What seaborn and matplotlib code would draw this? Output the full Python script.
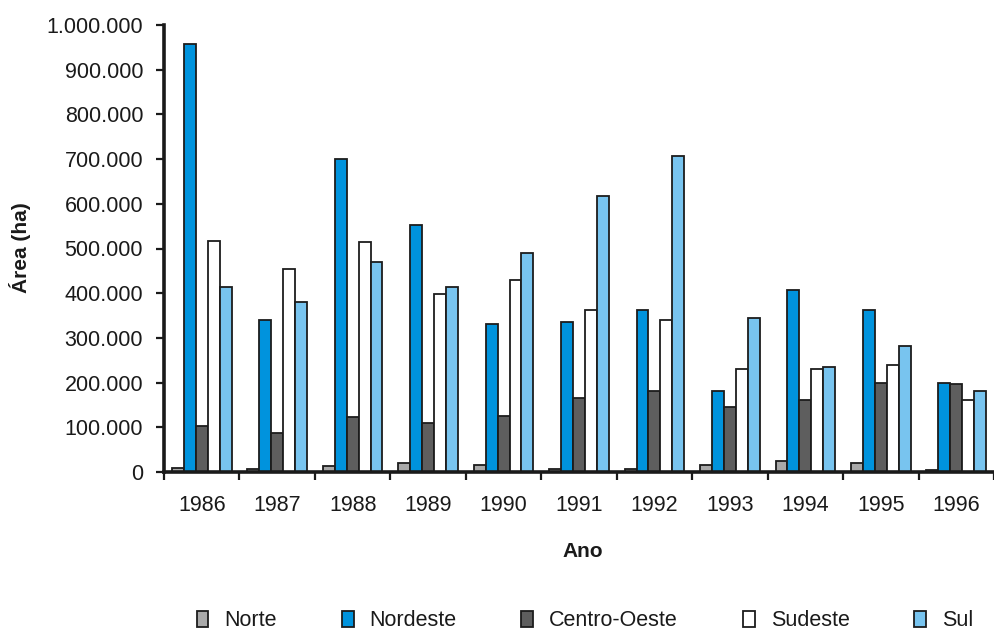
import numpy as np
import pandas as pd
import matplotlib
matplotlib.use("Agg")
import matplotlib.pyplot as plt
from matplotlib.patches import Patch
from matplotlib.ticker import FuncFormatter
import seaborn as sns

# Área (ha) por região, 1986-1996
anos = ["1986", "1987", "1988", "1989", "1990", "1991", "1992", "1993", "1994", "1995", "1996"]
regioes = ["Norte", "Nordeste", "Centro-Oeste", "Sudeste", "Sul"]
norte = [8000, 7000, 13000, 20000, 16000, 7000, 7000, 16000, 25000, 20000, 4000]
nordeste = [957000, 339000, 700000, 552000, 331000, 336000, 362000, 182000, 407000, 362000, 200000]
centro_oeste = [102000, 88000, 124000, 110000, 125000, 165000, 182000, 146000, 160000, 200000, 196000]
sudeste = [517000, 454000, 515000, 398000, 429000, 362000, 339000, 231000, 231000, 240000, 160000]
sul = [413000, 381000, 470000, 413000, 489000, 618000, 706000, 344000, 236000, 281000, 182000]

cores = ["#A9A9A9", "#0093DD", "#5E5E5E", "#FFFFFF", "#78C4EF"]

series = [norte, nordeste, centro_oeste, sudeste, sul]
df = pd.DataFrame({
    "Ano": np.repeat([anos], len(regioes), axis=0).ravel(),
    "Região": np.repeat(regioes, len(anos)),
    "Área": np.concatenate(series),
})

sns.set_theme(style="white")
plt.rcParams["font.family"] = ["Liberation Sans", "DejaVu Sans"]

fig = plt.figure(figsize=(9.94, 6.32), dpi=100)
ax = fig.add_axes([164 / 994, 1 - 472 / 632, 830 / 994, 447 / 632])

sns.barplot(
    data=df, x="Ano", y="Área", hue="Região", order=anos, hue_order=regioes,
    palette=cores, width=0.79, gap=0, edgecolor="#1c1c1c", linewidth=1.3,
    saturation=1, legend=False, ax=ax,
)

ax.set_ylim(0, 1_000_000)
ax.set_xlim(-0.5, 10.38)
ax.set_yticks(np.arange(0, 1_000_001, 100_000))
ax.yaxis.set_major_formatter(FuncFormatter(lambda v, p: f"{int(v):,}".replace(",", ".")))

# year labels centred, tick marks on the category boundaries
ax.set_xticks(np.arange(-0.5, 11, 1), minor=True)
ax.tick_params(axis="x", which="major", length=0, pad=16.5, labelsize=15.5, colors="#1a1a1a")
ax.tick_params(axis="x", which="minor", length=6, width=1.6, color="#1a1a1a", direction="out")
ax.tick_params(axis="y", which="major", length=6, width=1.6, color="#1a1a1a", pad=9,
               labelsize=15.5, labelcolor="#1a1a1a", direction="out", left=True)
ax.xaxis.set_tick_params(bottom=True, which="minor")

for side in ["top", "right"]:
    ax.spines[side].set_visible(False)
for side in ["left", "bottom"]:
    ax.spines[side].set_color("#1a1a1a")
    ax.spines[side].set_linewidth(2.6)

ax.set_xlabel("Ano", fontsize=15, fontweight="bold", color="#1a1a1a")
ax.set_ylabel("Área (ha)", fontsize=15, fontweight="bold", color="#1a1a1a")
ax.xaxis.set_label_coords((583 - 164) / 830, (472 - 542) / 447)
ax.yaxis.set_label_coords((31 - 164) / 830, (472 - 248) / 447)

handles = [Patch(facecolor=c, edgecolor="#1c1c1c", linewidth=1.3) for c in cores]
fig.legend(
    handles, regioes, loc="center", bbox_to_anchor=(585 / 994, 1 - 621 / 632),
    ncol=5, frameon=False, fontsize=15.5, handlelength=0.55, handleheight=0.8,
    handletextpad=0.75, columnspacing=3.0, labelcolor="#1a1a1a",
)

fig.savefig("out.png", dpi=100)
